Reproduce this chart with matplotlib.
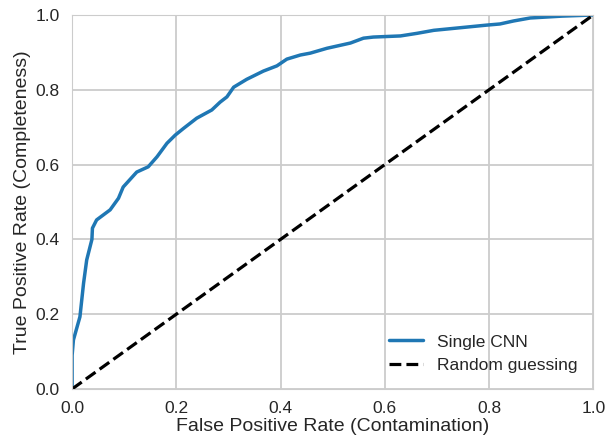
import numpy as np
import matplotlib
matplotlib.use("Agg")
import matplotlib.pyplot as plt
import seaborn as sns

sns.set_style("whitegrid")
plt.rcParams['font.family'] = ['Liberation Sans', 'DejaVu Sans']
plt.rcParams['grid.linewidth'] = 1.3

# ROC curve
fpr = [0.0, 0.0, 0.0025, 0.015, 0.022, 0.028, 0.038, 0.039, 0.047, 0.073, 0.089,
       0.098, 0.124, 0.146, 0.163, 0.182, 0.198, 0.214, 0.239, 0.268, 0.284,
       0.297, 0.310, 0.335, 0.367, 0.393, 0.412, 0.438, 0.457, 0.489, 0.534,
       0.559, 0.578, 0.630, 0.662, 0.694, 0.745, 0.796, 0.821, 0.847, 0.879,
       0.94, 1.0]
tpr = [0.0, 0.09, 0.131, 0.193, 0.283, 0.345, 0.400, 0.430, 0.452, 0.479, 0.510,
       0.540, 0.580, 0.594, 0.621, 0.657, 0.679, 0.697, 0.724, 0.746, 0.767,
       0.781, 0.807, 0.828, 0.850, 0.864, 0.882, 0.893, 0.898, 0.911, 0.925,
       0.938, 0.941, 0.944, 0.951, 0.959, 0.966, 0.973, 0.976, 0.984, 0.992,
       0.997, 1.0]
diag = [0.0, 1.0]

fig = plt.figure(figsize=(6.06, 4.41), dpi=100)
ax = fig.add_axes([0.119, 0.118, 0.860, 0.848])

ax.plot(fpr, tpr, color='#1f77b4', lw=2.5, label='Single CNN')
ax.plot(diag, diag, 'k--', lw=2.3, label='Random guessing')

ax.set_xlim(0, 1)
ax.set_ylim(0, 1)
ax.set_xticks(np.arange(0, 1.01, 0.2))
ax.set_yticks(np.arange(0, 1.01, 0.2))
ax.tick_params(labelsize=12.5, length=0, pad=9, labelcolor='#262626')
ax.set_xlabel('False Positive Rate (Contamination)', fontsize=14, labelpad=1, color='#262626')
ax.set_ylabel('True Positive Rate (Completeness)', fontsize=14, labelpad=3, color='#262626')
ax.legend(loc='lower right', frameon=False, fontsize=12.5)

fig.savefig('out.png', dpi=100)
